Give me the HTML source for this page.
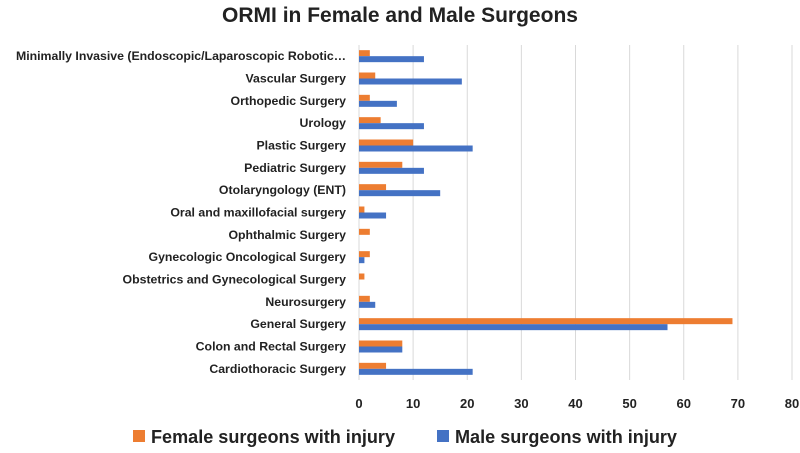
<!DOCTYPE html>
<html><head><meta charset="utf-8"><style>
body{margin:0;background:#fff;width:800px;height:448px;overflow:hidden;font-family:"Liberation Sans",sans-serif}
</style></head><body>
<svg id="c" width="800" height="448" font-family="Liberation Sans, sans-serif">
<text x="400" y="22" text-anchor="middle" font-size="21" font-weight="bold" fill="#222">ORMI in Female and Male Surgeons</text>
<g id="grid"></g><g id="bars"></g><g id="labels"></g><g id="ticks"></g>
<g>
<rect x="133" y="430" width="12" height="12" fill="#ED7D31"/>
<text x="151" y="443" font-size="18" font-weight="bold" fill="#222" textLength="244" lengthAdjust="spacingAndGlyphs">Female surgeons with injury</text>
<rect x="437" y="430" width="12" height="12" fill="#4472C4"/>
<text x="455" y="443" font-size="18" font-weight="bold" fill="#222" textLength="222" lengthAdjust="spacingAndGlyphs">Male surgeons with injury</text>
</g>
</svg>
<script>
const categories=["Cardiothoracic Surgery","Colon and Rectal Surgery","General Surgery","Neurosurgery","Obstetrics and Gynecological Surgery","Gynecologic Oncological Surgery","Ophthalmic Surgery","Oral and maxillofacial surgery","Otolaryngology (ENT)","Pediatric Surgery","Plastic Surgery","Urology","Orthopedic Surgery","Vascular Surgery","Minimally Invasive (Endoscopic/Laparoscopic Robotic…"];
const female=[5,8,69,2,1,2,2,1,5,8,10,4,2,3,2];
const male=[21,8,57,3,0,1,0,5,15,12,21,12,7,19,12];
const ticks=[0,10,20,30,40,50,60,70,80];
const NS="http://www.w3.org/2000/svg";
const x0=359,x1=792,yTop=45,yBot=380,max=80;
const xs=v=>x0+v/max*(x1-x0);
const band=(yBot-yTop)/categories.length;
const yc=i=>yBot-(i+0.5)*band;
function mk(t,a,p){const e=document.createElementNS(NS,t);for(const k in a)e.setAttribute(k,a[k]);document.getElementById(p).appendChild(e);return e;}
ticks.forEach(t=>{
 const l=mk('line',{x1:xs(t),x2:xs(t),y1:yTop,y2:yBot,stroke:'#d9d9d9','stroke-width':1},'grid');
 
 
 const tx=mk('text',{x:xs(t),y:408,'text-anchor':'middle','font-size':13,'font-weight':'bold',fill:'#222'},'ticks');
 tx.textContent=t;
 
 
});
categories.forEach((c,i)=>{
 const y=yc(i);
 const f=mk('rect',{x:x0,y:y-6,width:xs(female[i])-x0,height:6,fill:'#ED7D31'},'bars');
 
 
 const m=mk('rect',{x:x0,y:y,width:xs(male[i])-x0,height:6,fill:'#4472C4'},'bars');
 
 
 const t=mk('text',{x:346,y:y+4,'text-anchor':'end','font-size':12.3,'font-weight':'bold',fill:'#222'},'labels');
 t.textContent=c;
 
 
});
</script>
</body></html>
